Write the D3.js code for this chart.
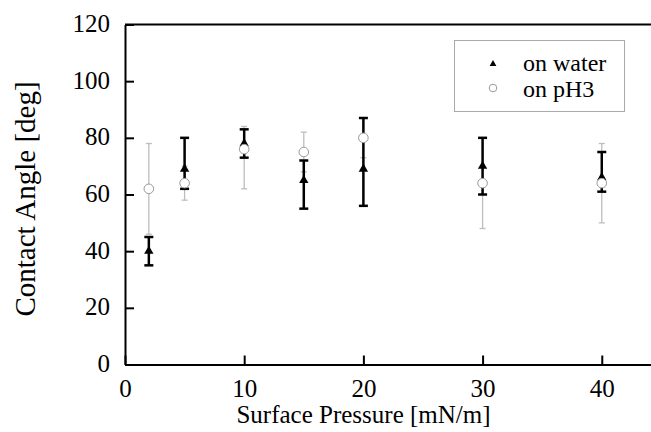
<!DOCTYPE html>
<html>
<head>
<meta charset="utf-8">
<script src="https://cdn.jsdelivr.net/npm/d3@7"></script>
<style>
  body { margin: 0; background: #fff; }
  svg text { font-family: "Liberation Serif", serif; fill: #000; }
</style>
</head>
<body>
<svg id="chart" width="651" height="432"></svg>
<script>
// surface pressure (mN/m)
const pressure = [2, 5, 10, 15, 20, 30, 40];

// on water: contact angle and error bar ends
const waterAngle = [40, 69, 78, 65, 69, 70, 66];
const waterLow   = [35, 62, 73, 55, 56, 60, 61];
const waterHigh  = [45, 80, 83, 72, 87, 80, 75];

// on pH3
const ph3Angle = [62, 64, 76, 75, 80, 64, 64];
const ph3Low   = [46, 58, 62, 68, 73, 48, 50];
const ph3High  = [78, 70, 84, 82, 87, 80, 78];

const xTicks = [0, 10, 20, 30, 40];
const yTicks = [0, 20, 40, 60, 80, 100, 120];
const seriesNames = ["on water", "on pH3"];

const FONT = '"Liberation Serif", serif';
const svg = d3.select("#chart");

const x = d3.scaleLinear().domain([0, 44.13]).range([125, 651]);
const y = d3.scaleLinear().domain([0, 120]).range([364.5, 24.5]);

const water = pressure.map((p, i) => ({ p, v: waterAngle[i], lo: waterLow[i], hi: waterHigh[i] }));
const ph3 = pressure.map((p, i) => ({ p, v: ph3Angle[i], lo: ph3Low[i], hi: ph3High[i] }));

// axes (ticks pointing inward)
const xAxis = svg.append("g")
    .attr("transform", `translate(0,${y(0)})`)
    .call(d3.axisBottom(x).tickValues(xTicks).tickSize(-9).tickPadding(15).tickSizeOuter(0));
const yAxis = svg.append("g")
    .attr("transform", `translate(${x(0)},0)`)
    .call(d3.axisLeft(y).tickValues(yTicks).tickSize(-9).tickPadding(15).tickSizeOuter(0));

[xAxis, yAxis].forEach(g => {
    g.attr("font-family", FONT);
    g.selectAll("path, line").attr("stroke", "#000").attr("stroke-width", 2);
    g.selectAll("text").style("font-family", FONT).style("font-size", "25px").attr("fill", "#000");
});
yAxis.selectAll("text").attr("dy", "0.28em");

// top frame line
svg.append("line")
    .attr("x1", x(0)).attr("x2", 651)
    .attr("y1", y(120)).attr("y2", y(120))
    .attr("stroke", "#000").attr("stroke-width", 2);

// error bars
const drawErrors = (data, color, width, cap) => {
    const g = svg.append("g").attr("stroke", color).attr("stroke-width", width);
    data.forEach(d => {
        g.append("line").attr("x1", x(d.p)).attr("x2", x(d.p)).attr("y1", y(d.lo)).attr("y2", y(d.hi));
        g.append("line").attr("x1", x(d.p) - cap).attr("x2", x(d.p) + cap).attr("y1", y(d.lo)).attr("y2", y(d.lo));
        g.append("line").attr("x1", x(d.p) - cap).attr("x2", x(d.p) + cap).attr("y1", y(d.hi)).attr("y2", y(d.hi));
    });
};
drawErrors(ph3, "#bdbdbd", 1.3, 3);
drawErrors(water, "#000", 2.5, 4.5);

const tri = d3.symbol(d3.symbolTriangle, 38);
svg.append("g").selectAll("path")
    .data(water)
    .enter()
    .append("path")
    .attr("d", tri)
    .attr("transform", d => `translate(${x(d.p)},${y(d.v)})`)
    .attr("fill", "#000");

svg.append("g").selectAll("circle")
    .data(ph3)
    .enter()
    .append("circle")
    .attr("cx", d => x(d.p))
    .attr("cy", d => y(d.v))
    .attr("r", 4.8)
    .attr("fill", "#fff")
    .attr("stroke", "#9a9a9a")
    .attr("stroke-width", 1);

// axis titles
svg.append("text")
    .attr("x", 363.5).attr("y", 423)
    .attr("text-anchor", "middle")
    .style("font-family", FONT)
    .style("font-size", "25px")
    .text("Surface Pressure [mN/m]");
svg.append("text")
    .attr("transform", "translate(35,199) rotate(-90)")
    .attr("text-anchor", "middle")
    .style("font-family", FONT)
    .style("font-size", "29px")
    .text("Contact Angle [deg]");

// legend
const legend = svg.append("g");
legend.append("rect")
    .attr("x", 454.5).attr("y", 40.5)
    .attr("width", 170).attr("height", 71)
    .attr("fill", "#fff").attr("stroke", "#aaa").attr("stroke-width", 1);
legend.append("path")
    .attr("d", d3.symbol(d3.symbolTriangle, 20))
    .attr("transform", "translate(493,64)")
    .attr("fill", "#000");
legend.append("circle")
    .attr("cx", 493).attr("cy", 88).attr("r", 3.8)
    .attr("fill", "#fff").attr("stroke", "#9a9a9a").attr("stroke-width", 1);
seriesNames.forEach((name, i) => {
    legend.append("text")
        .attr("x", 523).attr("y", 71 + i * 25.5)
        .style("font-family", FONT)
        .style("font-size", "24px")
        .text(name);
});
</script>
</body>
</html>
